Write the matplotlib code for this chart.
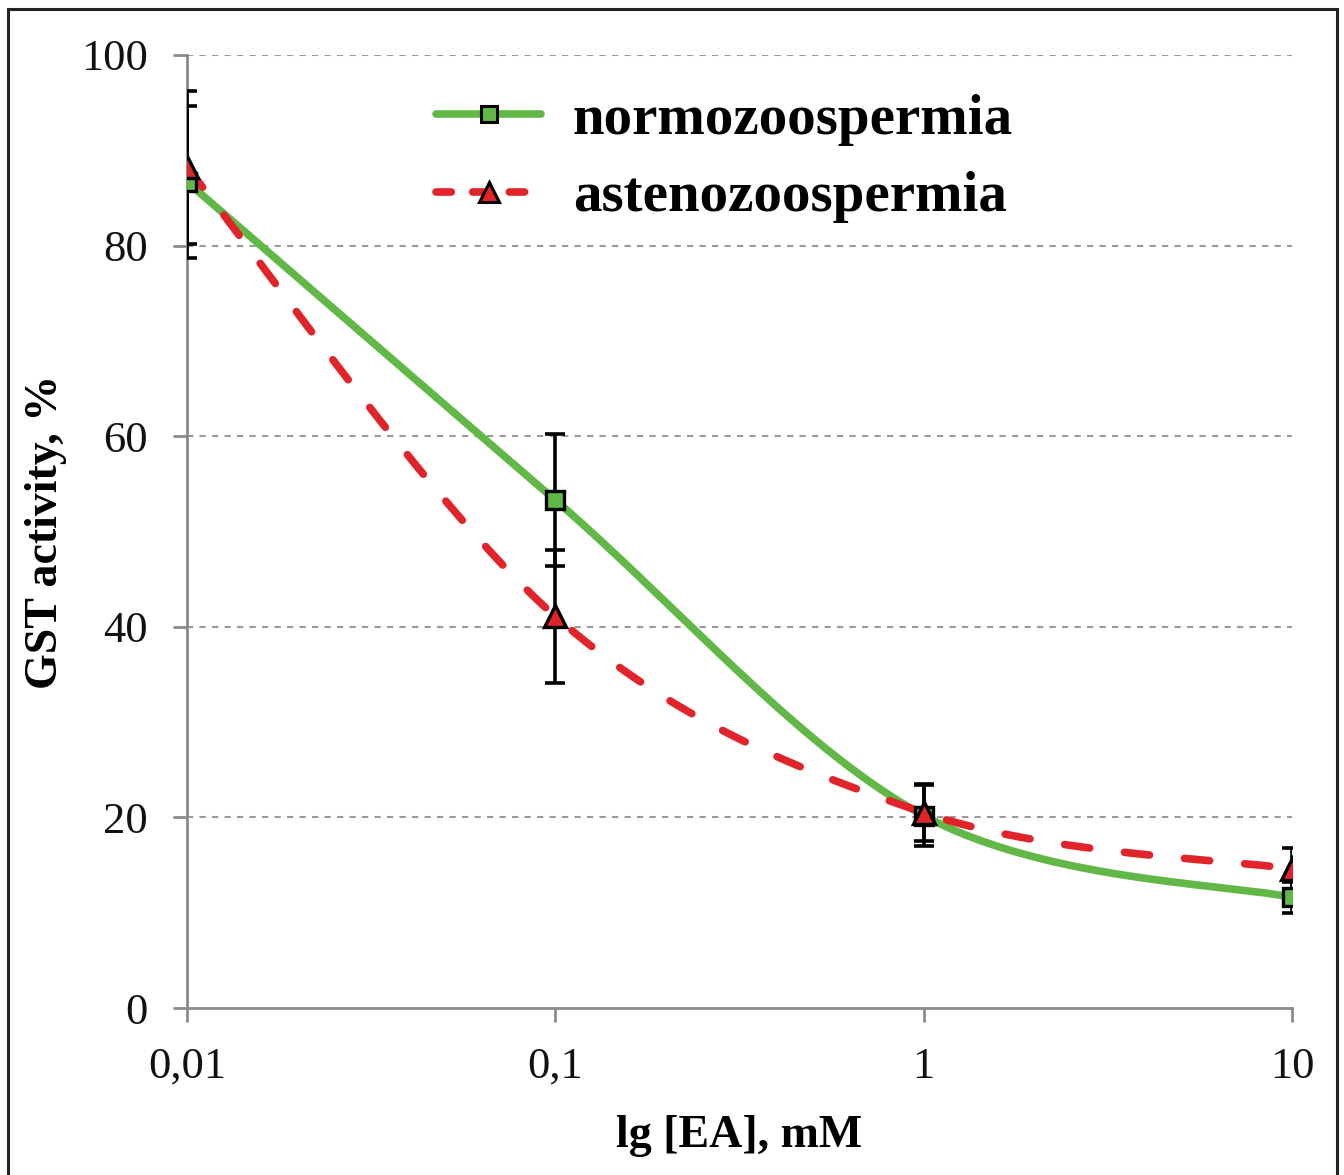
import numpy as np
import matplotlib
matplotlib.use("Agg")
import matplotlib.pyplot as plt
from matplotlib.patches import Rectangle
from matplotlib.lines import Line2D

# Concentration of EA (mM) and GST activity (% of control)
conc = [0.01, 0.1, 1, 10]
tick_labels = ["0,01", "0,1", "1", "10"]

normo = [86.7, 53.3, 20.2, 11.6]
normo_err = [8.0, 6.9, 3.2, 1.6]

asteno = [88.2, 41.1, 20.5, 14.6]
asteno_err = [8.0, 7.0, 3.0, 2.2]

GREEN = "#62B847"
RED = "#E0242A"
DASH = (0, (3.3, 4.6))


def smooth_curve(xs, ys, n=60):
    """Bezier smoothing through the points (Catmull-Rom style, like spreadsheet smoothed lines)."""
    lx = np.log10(np.asarray(xs, float))
    y = np.asarray(ys, float)
    pts = np.column_stack([lx, y])
    ext = np.vstack([pts[0], pts, pts[-1]])
    out = []
    for i in range(len(pts) - 1):
        p0, p1, p2, p3 = ext[i], ext[i + 1], ext[i + 2], ext[i + 3]
        c1 = p1 + (p2 - p0) / 6.0
        c2 = p2 - (p3 - p1) / 6.0
        t = np.linspace(0, 1, n)[:, None]
        seg = ((1 - t) ** 3) * p1 + 3 * ((1 - t) ** 2) * t * c1 + 3 * (1 - t) * t ** 2 * c2 + t ** 3 * p2
        out.append(seg if i == 0 else seg[1:])
    out = np.vstack(out)
    return 10 ** out[:, 0], out[:, 1]


plt.rcParams["font.family"] = ["Liberation Serif", "DejaVu Serif"]

fig = plt.figure(figsize=(13.44, 11.75), dpi=100)
ax = fig.add_axes([0.1391, 0.1421, 0.8222, 0.8111])

# outer frame
fig.patches.append(Rectangle((8 / 1344, -0.05), (1337 - 8) / 1344, 1.05 - 9 / 1175,
                             transform=fig.transFigure, fill=False,
                             edgecolor="#222222", linewidth=2.2, zorder=10))

ax.set_xscale("log")
ax.set_xlim(0.01, 10)
ax.set_ylim(0, 100)

# grid
for gy in [20, 40, 60, 80, 100]:
    ax.axhline(gy, color="#9a9a9a", linestyle=(0, (3, 3)), linewidth=1.5, zorder=0)

sx, sy = smooth_curve(conc, normo)
ax.plot(sx, sy, color=GREEN, linewidth=5.5, solid_capstyle="round", zorder=2)
ax_x, ax_y = smooth_curve(conc, asteno)
ax.plot(ax_x, ax_y, color=RED, linewidth=5.5, linestyle=DASH,
        dash_capstyle="round", zorder=2)

ax.errorbar(conc, normo, yerr=normo_err, fmt="none", ecolor="black",
            elinewidth=2.6, capsize=7.5, capthick=2.6, zorder=3)
ax.errorbar(conc, asteno, yerr=asteno_err, fmt="none", ecolor="black",
            elinewidth=2.6, capsize=7.5, capthick=2.6, zorder=3)

ax.plot(conc, normo, linestyle="none", marker="s", markersize=13.5,
        markerfacecolor=GREEN, markeredgecolor="black", markeredgewidth=2.4, zorder=4)
ax.plot(conc, asteno, linestyle="none", marker="^", markersize=16,
        markerfacecolor=RED, markeredgecolor="black", markeredgewidth=2.4, zorder=4)

# legend
h1 = Line2D([], [], color=GREEN, linewidth=5.5, marker="s", markersize=11,
            markerfacecolor=GREEN, markeredgecolor="black", markeredgewidth=2.2,
            solid_capstyle="round")
h2 = Line2D([], [], color=RED, linewidth=5.5, linestyle=(0, (2.0, 2.8)), marker="^",
            markersize=15, markerfacecolor=RED, markeredgecolor="black",
            markeredgewidth=2.2, dash_capstyle="round")
leg = ax.legend([h1, h2], ["normozoospermia", "astenozoospermia"],
                loc="upper left", bbox_to_anchor=(0.179, 1.013), frameon=False,
                handlelength=1.85, handletextpad=0.55, labelspacing=0.45,
                prop={"family": ["Liberation Serif"], "weight": "bold", "size": 41})

for side in ["top", "right"]:
    ax.spines[side].set_visible(False)
for side in ["left", "bottom"]:
    ax.spines[side].set_color("#8a8a8a")
    ax.spines[side].set_linewidth(2)

ax.set_xticks(conc)
ax.set_xticklabels(tick_labels)
ax.xaxis.set_minor_locator(matplotlib.ticker.NullLocator())
ax.set_yticks([0, 20, 40, 60, 80, 100])
ax.tick_params(axis="both", direction="out", length=10, width=2, color="#8a8a8a",
               labelsize=32, labelcolor="#111111")
ax.tick_params(axis="y", pad=18)
ax.tick_params(axis="x", pad=18)

ax.set_xlabel("lg [EA], mM", fontsize=33, fontweight="bold", labelpad=20)
ax.set_ylabel("GST activity, %", fontsize=33, fontweight="bold", labelpad=10)

fig.savefig("out.png", dpi=100, facecolor="white")
